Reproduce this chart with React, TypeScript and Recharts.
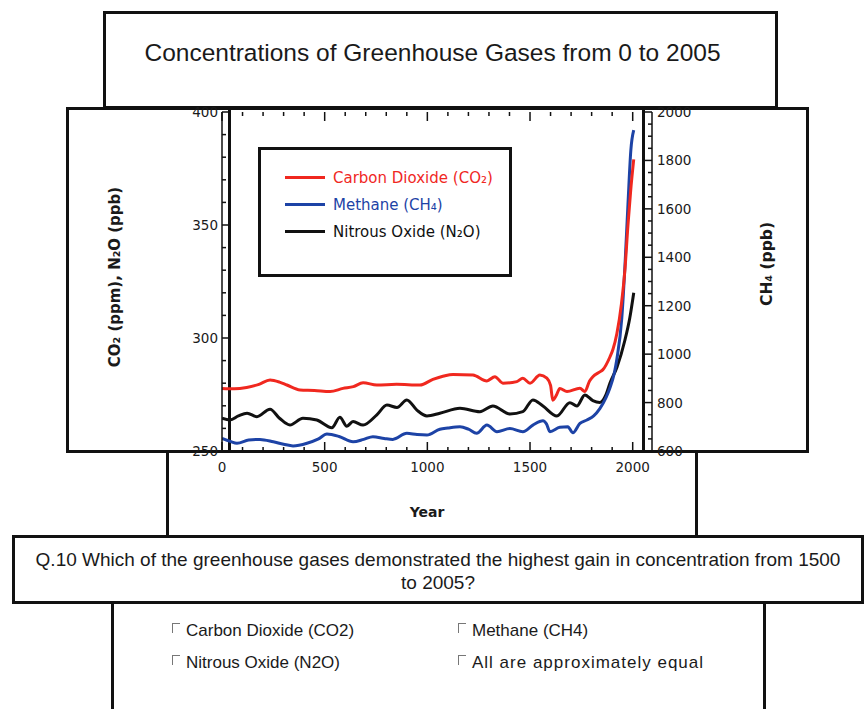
import React from 'react';
import { LineChart, Line, XAxis, YAxis } from 'recharts';

// ---------- data ----------
const co2Years = [0, 60, 120, 180, 234, 280, 316, 380, 450, 526, 589, 640, 687, 754, 850, 964, 1027, 1080, 1125, 1222, 1290, 1329, 1368, 1436, 1465, 1500, 1548, 1582, 1600, 1611, 1630, 1645, 1680, 1743, 1767, 1790, 1806, 1840, 1855, 1889, 1904, 1923, 1945, 1962, 1977, 1990, 2005];
const co2Values = [277.7, 277.5, 278.1, 279.5, 281.4, 280.5, 279.2, 277, 276.8, 276.3, 277.7, 278.5, 280.2, 279.2, 279.5, 279.2, 281.7, 283.2, 283.9, 283.6, 281, 282.9, 280, 280.7, 282.2, 280, 283.6, 282.2, 279, 272.5, 275, 277.7, 276.3, 277.8, 276.3, 281, 282.9, 285, 286, 291.6, 295, 302, 315, 330, 350, 365, 379];

const ch4Years = [0, 40, 73, 130, 185, 250, 300, 346, 414, 470, 511, 570, 638, 690, 735, 790, 832, 900, 950, 998, 1061, 1100, 1159, 1200, 1240, 1290, 1339, 1402, 1465, 1514, 1563, 1580, 1597, 1645, 1684, 1709, 1743, 1777, 1810, 1840, 1870, 1889, 1910, 1923, 1947, 1962, 1977, 1991, 2005];
const ch4Values = [652, 640, 632, 645, 648, 638, 628, 621, 632, 650, 670, 660, 638, 648, 659, 652, 648, 673, 668, 666, 690, 695, 700, 690, 673, 707, 680, 693, 680, 707, 725, 712, 680, 698, 700, 675, 714, 728, 745, 775, 820, 860, 920, 980, 1150, 1360, 1620, 1843, 1925];

const n2oYears = [0, 39, 80, 122, 170, 234, 280, 331, 394, 462, 535, 574, 608, 638, 687, 754, 803, 852, 900, 949, 998, 1061, 1159, 1256, 1319, 1402, 1465, 1514, 1563, 1631, 1694, 1728, 1767, 1806, 1840, 1870, 1889, 1923, 1962, 1986, 2005];
const n2oValues = [264.5, 263.7, 265.5, 266.7, 265.2, 268.5, 264.5, 261.5, 264.5, 263.7, 260.3, 264.9, 261, 263, 261.5, 266, 270.3, 269.3, 272.6, 268.1, 265.5, 266.7, 268.9, 267.4, 269.9, 266.4, 267.4, 272.6, 269.9, 265.5, 271.4, 269.9, 274.8, 272.3, 271.5, 275, 280, 287, 299, 309, 320];

const seriesNames = ['Carbon Dioxide (CO₂)', 'Methane (CH₄)', 'Nitrous Oxide (N₂O)'];
const seriesColors = ['#f0281f', '#1d43a6', '#111111'];

const yearTicks = [0, 100, 200, 300, 400, 500, 600, 700, 800, 900, 1000, 1100, 1200, 1300, 1400, 1500, 1600, 1700, 1800, 1900, 2000];
const leftTicks = [250, 260, 270, 280, 290, 300, 310, 320, 330, 340, 350, 360, 370, 380, 390, 400];
const rightTicks = [600, 650, 700, 750, 800, 850, 900, 950, 1000, 1050, 1100, 1150, 1200, 1250, 1300, 1350, 1400, 1450, 1500, 1550, 1600, 1650, 1700, 1750, 1800, 1850, 1900, 1950, 2000];

const titleText = 'Concentrations of Greenhouse Gases from 0 to 2005';
const questionLine1 = 'Q.10 Which of the greenhouse gases demonstrated the highest gain in concentration from 1500';
const questionLine2 = 'to 2005?';
const answerOptions = ['Carbon Dioxide (CO2)', 'Methane (CH4)', 'Nitrous Oxide (N2O)', 'All are approximately equal'];

const co2Data = co2Years.map((year, i) => ({ year, value: co2Values[i] }));
const ch4Data = ch4Years.map((year, i) => ({ year, value: ch4Values[i] }));
const n2oData = n2oYears.map((year, i) => ({ year, value: n2oValues[i] }));

// ---------- styling ----------
const FONT_PLOT = '"DejaVu Sans", Verdana, sans-serif';
const FONT_ARIAL = '"Liberation Sans", Arial, sans-serif';
const INK = '#111';

const BottomTick = (props: any) => {
  const { x, y, payload } = props;
  const v = payload.value as number;
  const major = v % 500 === 0;
  return (
    <g>
      <line x1={x} y1={y} x2={x} y2={y - (major ? 9 : 4)} stroke={INK} strokeWidth={1.5} />
      {major && (
        <text x={x} y={y + 21} textAnchor="middle" fontFamily={FONT_PLOT} fontSize={13.5} fill="#1a1a1a">
          {v}
        </text>
      )}
    </g>
  );
};

const TopTick = (props: any) => {
  const { x, y, payload } = props;
  const v = payload.value as number;
  const major = v % 500 === 0;
  return <line x1={x} y1={y} x2={x} y2={y + (major ? 9 : 4)} stroke={INK} strokeWidth={1.5} />;
};

const LeftTick = (props: any) => {
  const { x, y, payload } = props;
  const v = payload.value as number;
  const major = v % 50 === 0;
  return (
    <g>
      <line x1={x} y1={y} x2={x + (major ? 8 : 4)} y2={y} stroke={INK} strokeWidth={1.5} />
      {major && (
        <text x={x - 4} y={y + 5} textAnchor="end" fontFamily={FONT_PLOT} fontSize={13.5} fill="#1a1a1a">
          {v}
        </text>
      )}
    </g>
  );
};

const RightTick = (props: any) => {
  const { x, y, payload } = props;
  const v = payload.value as number;
  const major = v % 200 === 0;
  return (
    <g>
      <line x1={x} y1={y} x2={x - (major ? 9 : 4)} y2={y} stroke={INK} strokeWidth={1.5} />
      {major && (
        <text x={x + 5} y={y + 5} textAnchor="start" fontFamily={FONT_PLOT} fontSize={13.5} fill="#1a1a1a">
          {v}
        </text>
      )}
    </g>
  );
};

const box = (left: number, top: number, width: number, height: number, extra: React.CSSProperties = {}): React.CSSProperties => ({
  position: 'absolute',
  left,
  top,
  width,
  height,
  boxSizing: 'border-box',
  border: `3px solid ${INK}`,
  background: '#fff',
  ...extra,
});

const CheckMark = () => (
  <span
    style={{
      display: 'inline-block',
      width: 7,
      height: 9,
      borderTop: '1px solid #777',
      borderLeft: '1px solid #777',
      marginRight: 6,
      verticalAlign: 'baseline',
      position: 'relative',
      top: -3,
    }}
  />
);

export default function App() {
  return (
    <div style={{ position: 'absolute', left: 0, top: 0, width: 864, height: 709, background: '#fff', overflow: 'hidden' }}>
      {/* title box */}
      <div style={box(103, 11, 675, 98)} />
      <div
        style={{
          position: 'absolute',
          left: 95,
          top: 41,
          width: 675,
          textAlign: 'center',
          fontFamily: FONT_ARIAL,
          fontSize: 24.5,
          lineHeight: '24px',
          color: '#1a1a1a',
          whiteSpace: 'nowrap',
        }}
      >
        {titleText}
      </div>

      {/* chart box */}
      <div style={box(66, 107, 743, 346)} />
      {/* x-axis box */}
      <div style={box(166, 450, 532, 88)} />
      {/* question box */}
      <div style={box(12, 535, 852, 69)} />
      {/* answer box */}
      <div style={box(111, 601, 655, 130)} />

      {/* inner frame lines of plot */}
      <div style={{ position: 'absolute', left: 228, top: 109, width: 3, height: 343, background: INK }} />
      <div style={{ position: 'absolute', left: 642, top: 109, width: 3, height: 343, background: INK }} />

      {/* axis titles */}
      <div
        style={{
          position: 'absolute',
          left: 115,
          top: 277,
          transform: 'translate(-50%, -50%) rotate(-90deg)',
          whiteSpace: 'nowrap',
          fontFamily: FONT_PLOT,
          fontSize: 15,
          fontWeight: 600,
          color: '#1a1a1a',
        }}
      >
        CO₂ (ppm), N₂O (ppb)
      </div>
      <div
        style={{
          position: 'absolute',
          left: 767,
          top: 264,
          transform: 'translate(-50%, -50%) rotate(-90deg)',
          whiteSpace: 'nowrap',
          fontFamily: FONT_PLOT,
          fontSize: 15.5,
          fontWeight: 600,
          color: '#1a1a1a',
        }}
      >
        CH₄ (ppb)
      </div>
      <div
        style={{
          position: 'absolute',
          left: 427,
          top: 512,
          transform: 'translate(-50%, -50%)',
          fontFamily: FONT_PLOT,
          fontSize: 14,
          fontWeight: 700,
          color: '#1a1a1a',
        }}
      >
        Year
      </div>

      {/* legend */}
      <div style={box(258, 147, 254, 130, { paddingTop: 14, paddingLeft: 24 })}>
        {seriesNames.map((name, i) => (
          <div key={name} style={{ display: 'flex', alignItems: 'center', height: 27 }}>
            <span style={{ display: 'inline-block', width: 40, height: 3, background: seriesColors[i], marginRight: 8 }} />
            <span style={{ color: seriesColors[i], fontFamily: FONT_PLOT, fontSize: 15, fontWeight: 500, whiteSpace: 'nowrap' }}>{name}</span>
          </div>
        ))}
      </div>

      {/* question */}
      <div
        style={{
          position: 'absolute',
          left: 12,
          top: 548,
          width: 852,
          textAlign: 'center',
          fontFamily: FONT_ARIAL,
          fontSize: 19,
          lineHeight: '23px',
          color: '#1a1a1a',
          whiteSpace: 'nowrap',
        }}
      >
        {questionLine1}
        <br />
        {questionLine2}
      </div>

      {/* answers */}
      {answerOptions.map((opt, i) => (
        <div
          key={opt}
          style={{
            position: 'absolute',
            left: i % 2 === 0 ? 172 : 458,
            top: i < 2 ? 621 : 653,
            fontFamily: FONT_ARIAL,
            fontSize: 17,
            lineHeight: '20px',
            color: '#1a1a1a',
            whiteSpace: 'nowrap',
            letterSpacing: i === 3 ? 1 : 0,
          }}
        >
          <CheckMark />
          {opt}
        </div>
      ))}

      {/* chart */}
      <div style={{ position: 'absolute', left: 0, top: 0 }}>
        <LineChart width={864} height={709} margin={{ top: 111, right: 152, bottom: 228, left: 162 }}>
          <XAxis
            xAxisId="bottom"
            type="number"
            dataKey="year"
            domain={[0, 2094]}
            allowDataOverflow
            ticks={yearTicks}
            interval={0}
            tickSize={0}
            tickMargin={0}
            axisLine={false}
            tickLine={false}
            tick={<BottomTick />}
            height={30}
          />
          <XAxis
            xAxisId="top"
            orientation="top"
            type="number"
            dataKey="year"
            domain={[0, 2094]}
            allowDataOverflow
            ticks={yearTicks}
            interval={0}
            tickSize={0}
            tickMargin={0}
            axisLine={false}
            tickLine={false}
            tick={<TopTick />}
            height={1}
          />
          <YAxis
            yAxisId="left"
            type="number"
            domain={[250, 400]}
            allowDataOverflow
            ticks={leftTicks}
            interval={0}
            tickSize={0}
            tickMargin={0}
            axisLine={{ stroke: INK, strokeWidth: 1.5 }}
            tickLine={false}
            tick={<LeftTick />}
            width={60}
          />
          <YAxis
            yAxisId="right"
            orientation="right"
            type="number"
            domain={[600, 2000]}
            allowDataOverflow
            ticks={rightTicks}
            interval={0}
            tickSize={0}
            tickMargin={0}
            axisLine={{ stroke: INK, strokeWidth: 1.5 }}
            tickLine={false}
            tick={<RightTick />}
            width={60}
          />
          <Line
            xAxisId="bottom"
            yAxisId="left"
            data={n2oData}
            dataKey="value"
            name={seriesNames[2]}
            type="monotone"
            stroke={seriesColors[2]}
            strokeWidth={3}
            dot={false}
            isAnimationActive={false}
          />
          <Line
            xAxisId="bottom"
            yAxisId="right"
            data={ch4Data}
            dataKey="value"
            name={seriesNames[1]}
            type="monotone"
            stroke={seriesColors[1]}
            strokeWidth={3}
            dot={false}
            isAnimationActive={false}
          />
          <Line
            xAxisId="bottom"
            yAxisId="left"
            data={co2Data}
            dataKey="value"
            name={seriesNames[0]}
            type="monotone"
            stroke={seriesColors[0]}
            strokeWidth={3}
            dot={false}
            isAnimationActive={false}
          />
        </LineChart>
      </div>
    </div>
  );
}
